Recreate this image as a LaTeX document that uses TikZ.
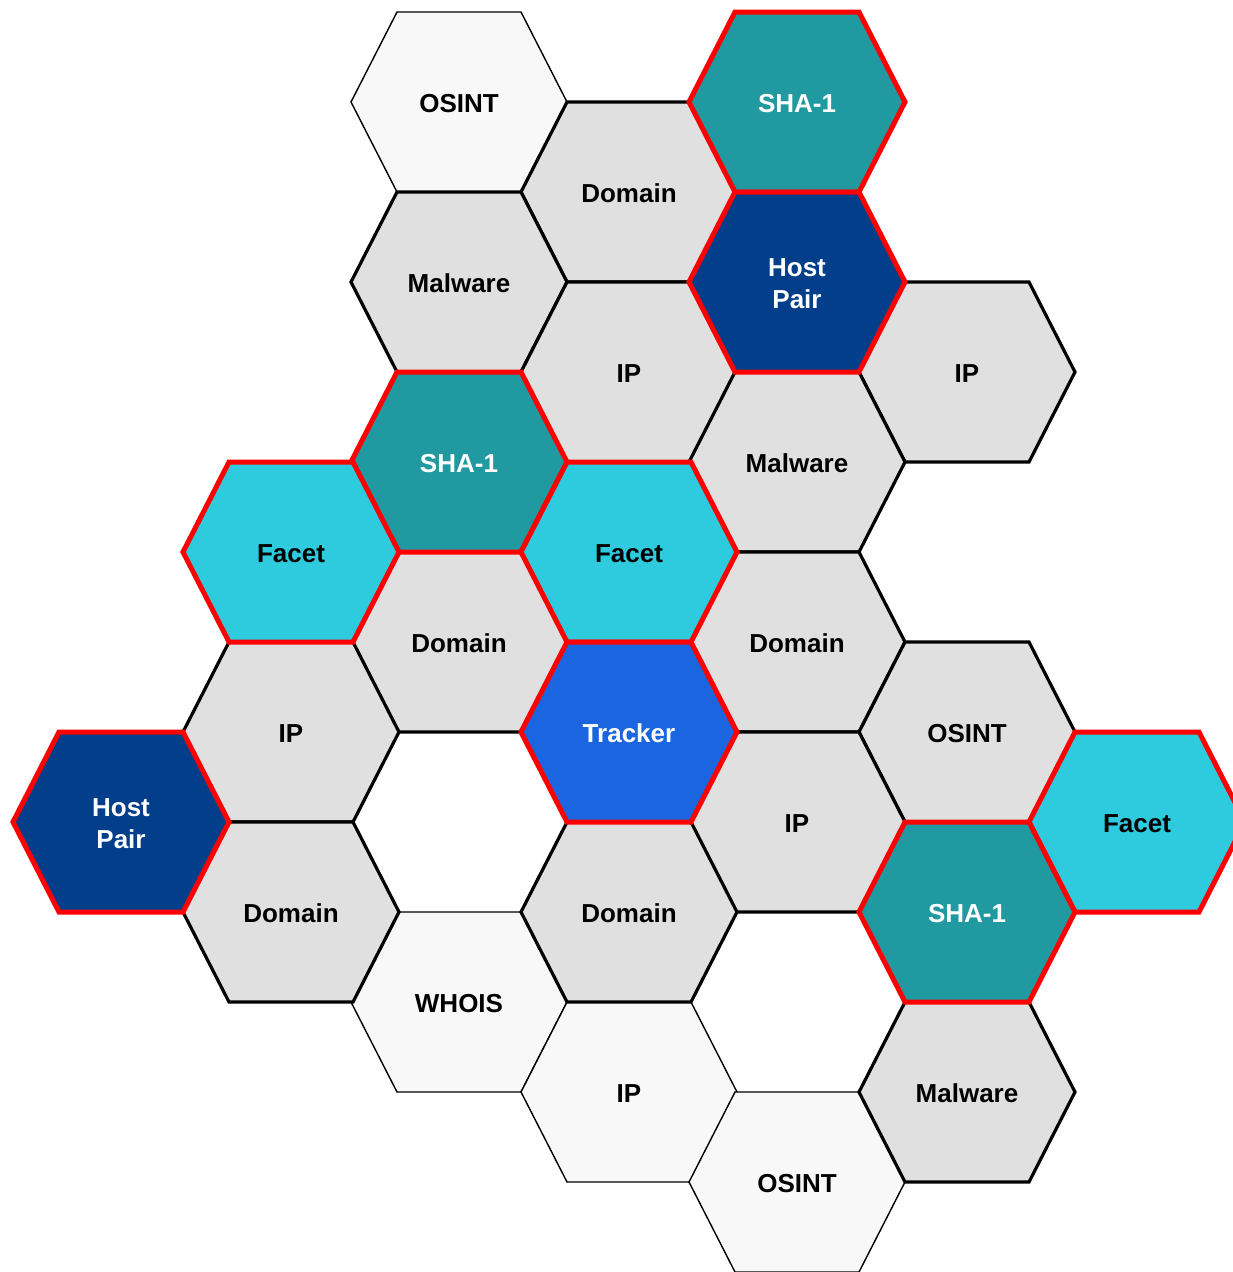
\documentclass[tikz,border=0pt]{standalone}
\usepackage{fontspec}
\setmainfont{Liberation Sans}
\usetikzlibrary{positioning}
\definecolor{paleg}{RGB}{248,248,248}
\definecolor{cellg}{RGB}{224,224,224}
\definecolor{shac}{RGB}{33,153,160}
\definecolor{hostc}{RGB}{2,62,138}
\definecolor{trackc}{RGB}{27,102,224}
\definecolor{facetc}{RGB}{46,202,222}
\definecolor{hilite}{RGB}{255,0,0}
\tikzset{
  hexpale/.style={fill=paleg,draw=black,line width=1.4pt,line join=miter},
  hexgray/.style={fill=cellg,draw=black,line width=3.2pt,line join=miter},
  hexhot/.style={draw=hilite,line width=5pt,line join=miter},
  lab/.style={font=\bfseries\fontsize{26}{32}\selectfont,align=center,inner sep=0pt},
}
\newcommand{\hexcell}{(-108,0) -- (-62,-90) -- (62,-90) -- (108,0) -- (62,90) -- (-62,90) -- cycle}

\begin{document}
\begin{tikzpicture}[x=1pt,y=-1pt]
			\useasboundingbox (0,0) rectangle (1233,1272);
			% pale cells
			\foreach \x/\y/\t/\n in {459/102/OSINT/osintA, 459/1002/WHOIS/whois, 629/1092/IP/ipF, 797/1182/OSINT/osintC}{
				\draw[hexpale,shift={(\x,\y)}] \hexcell;
				\node[lab] (\n) at (\x,\y+1.5) {\t};
			}
			% gray cells
			\foreach \x/\y/\t/\n in {629/192/Domain/domA, 459/282/Malware/malA, 629/372/IP/ipA, 967/372/IP/ipB,
				797/462/Malware/malB, 459/642/Domain/domB, 797/642/Domain/domC, 291/732/IP/ipC,
				967/732/OSINT/osintB, 797/822/IP/ipD, 291/912/Domain/domD, 629/912/Domain/domE,
				967/1092/Malware/malC}{
				\draw[hexgray,shift={(\x,\y)}] \hexcell;
				\node[lab] (\n) at (\x,\y+1.5) {\t};
			}
			% highlighted cells
			\foreach \x/\y/\c/\tc/\t/\n in {797/102/shac/white/SHA-1/shaA, 797/282/hostc/white/{Host\\Pair}/hostA,
				459/462/shac/white/SHA-1/shaB, 291/552/facetc/black/Facet/facetA, 629/552/facetc/black/Facet/facetB,
				629/732/trackc/white/Tracker/tracker, 121/822/hostc/white/{Host\\Pair}/hostB,
				1137/822/facetc/black/Facet/facetC, 967/912/shac/white/SHA-1/shaC}{
				\draw[hexhot,fill=\c,shift={(\x,\y)}] \hexcell;
				\node[lab,text=\tc] (\n) at (\x,\y+1.5) {\t};
			}
		\end{tikzpicture}
\end{document}
